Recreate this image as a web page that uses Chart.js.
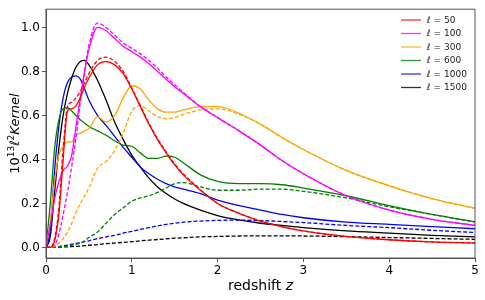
<!DOCTYPE html>
<html>
<head>
<meta charset="utf-8">
<script src="https://cdn.jsdelivr.net/npm/chart.js@4.4.0/dist/chart.umd.min.js"></script>
<style>
  html, body { margin: 0; padding: 0; background: #fff; }
  #wrap { width: 485px; height: 300px; }
</style>
</head>
<body>
<div id="wrap"><canvas id="kernelChart"></canvas></div>
<script>
// redshift samples shared by every curve
const redshift = [0, 0.05, 0.1, 0.15, 0.2, 0.25, 0.3, 0.35, 0.4, 0.45, 0.5, 0.6, 0.7, 0.8, 0.9, 1.0,
  1.1, 1.2, 1.3, 1.4, 1.5, 1.6, 1.8, 2.0, 2.25, 2.5, 2.75, 3.0, 3.5, 4.0, 4.5, 5.0];

// solid curves
const l50 = [0, 0, 0.03, 0.15, 0.40, 0.62, 0.63, 0.645, 0.68, 0.73, 0.77, 0.83, 0.845, 0.83, 0.79, 0.72,
  0.64, 0.56, 0.49, 0.43, 0.375, 0.33, 0.26, 0.20, 0.155, 0.12, 0.095, 0.075, 0.05, 0.035, 0.025, 0.02];
const l100 = [0, 0.1, 0.22, 0.3, 0.35, 0.37, 0.42, 0.55, 0.68, 0.80, 0.90, 1.0, 0.985, 0.95, 0.915, 0.89,
  0.865, 0.835, 0.80, 0.765, 0.73, 0.70, 0.64, 0.59, 0.53, 0.465, 0.395, 0.335, 0.235, 0.17, 0.128, 0.10];
const l300 = [0, 0.12, 0.30, 0.42, 0.46, 0.48, 0.48, 0.51, 0.52, 0.53, 0.54, 0.595, 0.57, 0.60, 0.68, 0.735,
  0.72, 0.67, 0.63, 0.615, 0.615, 0.625, 0.64, 0.64, 0.61, 0.56, 0.50, 0.445, 0.35, 0.28, 0.222, 0.178];
const l600 = [0, 0.2, 0.45, 0.58, 0.63, 0.635, 0.62, 0.6, 0.58, 0.565, 0.55, 0.53, 0.51, 0.485, 0.465, 0.46,
  0.43, 0.405, 0.405, 0.415, 0.41, 0.385, 0.33, 0.30, 0.29, 0.29, 0.285, 0.27, 0.235, 0.19, 0.15, 0.117];
const l1000 = [0, 0.08, 0.35, 0.55, 0.68, 0.75, 0.775, 0.78, 0.765, 0.72, 0.67, 0.60, 0.555, 0.505, 0.455, 0.41,
  0.365, 0.335, 0.31, 0.29, 0.275, 0.265, 0.245, 0.215, 0.19, 0.17, 0.15, 0.135, 0.115, 0.105, 0.095, 0.085];
const l1500 = [0, 0.05, 0.25, 0.45, 0.6, 0.7, 0.77, 0.82, 0.845, 0.85, 0.83, 0.76, 0.67, 0.57, 0.49, 0.42,
  0.365, 0.315, 0.275, 0.245, 0.22, 0.2, 0.17, 0.145, 0.125, 0.11, 0.1, 0.09, 0.075, 0.065, 0.055, 0.048];

// dashed curves
const l50d = [0, 0, 0.04, 0.18, 0.45, 0.64, 0.66, 0.68, 0.71, 0.75, 0.79, 0.85, 0.865, 0.845, 0.80, 0.725,
  0.645, 0.565, 0.495, 0.435, 0.38, 0.335, 0.262, 0.20, 0.155, 0.12, 0.095, 0.075, 0.05, 0.035, 0.025, 0.02];
const l100d = [0, 0, 0.01, 0.06, 0.15, 0.25, 0.37, 0.5, 0.66, 0.80, 0.92, 1.02, 1.0, 0.965, 0.93, 0.905,
  0.88, 0.85, 0.815, 0.775, 0.74, 0.705, 0.64, 0.59, 0.53, 0.465, 0.395, 0.335, 0.235, 0.17, 0.128, 0.10];
const l300d = [0, 0, 0.005, 0.02, 0.04, 0.07, 0.11, 0.16, 0.2, 0.235, 0.27, 0.36, 0.39, 0.44, 0.52, 0.62,
  0.645, 0.62, 0.595, 0.585, 0.59, 0.605, 0.625, 0.63, 0.605, 0.56, 0.50, 0.445, 0.35, 0.28, 0.222, 0.178];
const l600d = [0, 0, 0, 0.002, 0.004, 0.006, 0.01, 0.014, 0.02, 0.03, 0.045, 0.07, 0.11, 0.15, 0.18, 0.21,
  0.225, 0.235, 0.25, 0.27, 0.29, 0.295, 0.275, 0.26, 0.26, 0.265, 0.265, 0.255, 0.225, 0.185, 0.15, 0.115];
const l1000d = [0, 0, 0.002, 0.004, 0.008, 0.011, 0.015, 0.018, 0.022, 0.026, 0.03, 0.04, 0.048, 0.055, 0.065, 0.073,
  0.082, 0.09, 0.098, 0.105, 0.11, 0.115, 0.12, 0.123, 0.124, 0.122, 0.118, 0.113, 0.1, 0.09, 0.078, 0.068];
const l1500d = [0, 0, 0, 0.001, 0.002, 0.003, 0.004, 0.005, 0.006, 0.008, 0.01, 0.013, 0.017, 0.02, 0.023, 0.026,
  0.03, 0.033, 0.036, 0.039, 0.042, 0.044, 0.048, 0.05, 0.052, 0.053, 0.053, 0.052, 0.049, 0.045, 0.041, 0.037];

const legendLabels = ["ℓ = 50", "ℓ = 100", "ℓ = 300", "ℓ = 600", "ℓ = 1000", "ℓ = 1500"];
const lineColors = ["#ff0000", "#ff00ff", "#ffa500", "#008000", "#0000ff", "#000000"];
const xTicks = [0, 1, 2, 3, 4, 5];
const yTicks = [0.0, 0.2, 0.4, 0.6, 0.8, 1.0];

const solidSeries = [l50, l100, l300, l600, l1000, l1500];
const dashedSeries = [l50d, l100d, l300d, l600d, l1000d, l1500d];

const toPoints = arr => redshift.map((z, i) => ({ x: z, y: arr[i] }));

const datasets = [];
solidSeries.forEach((arr, i) => {
  datasets.push({
    label: legendLabels[i],
    data: toPoints(arr),
    borderColor: lineColors[i],
    borderWidth: 1.3,
    pointRadius: 0,
    fill: false,
    cubicInterpolationMode: 'monotone'
  });
  datasets.push({
    label: legendLabels[i] + " (dashed)",
    data: toPoints(dashedSeries[i]),
    borderColor: lineColors[i],
    borderWidth: 1.3,
    borderDash: [4, 2],
    pointRadius: 0,
    fill: false,
    cubicInterpolationMode: 'monotone'
  });
});

const axisColor = '#555';

// frame, axis titles and legend, drawn matplotlib style
const extras = {
  id: 'extras',
  afterDraw(chart) {
    const { ctx, chartArea: a } = chart;
    ctx.save();
    ctx.strokeStyle = axisColor;
    ctx.lineWidth = 1;
    ctx.strokeRect(a.left, a.top, a.right - a.left, a.bottom - a.top);

    // x title: "redshift z"
    ctx.fillStyle = '#000';
    ctx.textBaseline = 'alphabetic';
    const f1 = '14px "DejaVu Sans"', f1i = 'italic 14px "DejaVu Sans"';
    ctx.font = f1;
    const w1 = ctx.measureText('redshift ').width;
    ctx.font = f1i;
    const w2 = ctx.measureText('z').width;
    let x0 = (a.left + a.right) / 2 - (w1 + w2) / 2;
    ctx.textAlign = 'left';
    ctx.font = f1;
    ctx.fillText('redshift ', x0, 290);
    ctx.font = f1i;
    ctx.fillText('z', x0 + w1, 290);

    // y title: 10^13 ℓ^2 Kernel
    const parts = [
      { t: '10', f: '13px "DejaVu Sans"', dy: 0 },
      { t: '13', f: '9px "DejaVu Sans"', dy: -5 },
      { t: 'ℓ', f: 'italic 13px "DejaVu Sans"', dy: 0 },
      { t: '2', f: '9px "DejaVu Sans"', dy: -5 },
      { t: 'Kernel', f: 'italic 13px "DejaVu Sans"', dy: 0 }
    ];
    let total = 0;
    parts.forEach(p => { ctx.font = p.f; p.w = ctx.measureText(p.t).width; total += p.w; });
    ctx.translate(19, (a.top + a.bottom) / 2);
    ctx.rotate(-Math.PI / 2);
    let cx = -total / 2;
    parts.forEach(p => { ctx.font = p.f; ctx.fillText(p.t, cx, p.dy); cx += p.w; });
    ctx.setTransform(1, 0, 0, 1, 0, 0);

    // legend
    ctx.font = '9px "DejaVu Sans"';
    ctx.textBaseline = 'middle';
    legendLabels.forEach((lab, i) => {
      const y = 20 + i * 13.5;
      ctx.strokeStyle = lineColors[i];
      ctx.globalAlpha = 0.8;
      ctx.lineWidth = 1.3;
      ctx.beginPath();
      ctx.moveTo(401, y);
      ctx.lineTo(421, y);
      ctx.stroke();
      ctx.globalAlpha = 1;
      ctx.fillStyle = '#222';
      ctx.fillText(lab, 427, y + 0.5);
    });
    ctx.restore();
  }
};

const ctx = document.getElementById('kernelChart').getContext('2d');
const kernelChart = new Chart(ctx, {
  type: 'line',
  data: { datasets: datasets },
  options: {
    responsive: true,
    maintainAspectRatio: false,
    animation: false,
    layout: { padding: { top: 8, right: 10, left: 0, bottom: 0 } },
    scales: {
      x: {
        type: 'linear',
        min: 0,
        max: 5,
        afterBuildTicks: s => { s.ticks = xTicks.map(v => ({ value: v })); },
        afterFit: s => { s.height = 42; },
        grid: { drawOnChartArea: false, tickLength: 4, tickColor: axisColor },
        border: { color: axisColor },
        ticks: {
          color: '#000',
          padding: 2,
          maxRotation: 0,
          font: { family: '"DejaVu Sans"', size: 12 },
          callback: v => String(v)
        }
      },
      y: {
        type: 'linear',
        min: -0.048,
        max: 1.083,
        afterBuildTicks: s => { s.ticks = yTicks.map(v => ({ value: v })); },
        afterFit: s => { s.width = 46; },
        grid: { drawOnChartArea: false, tickLength: 4, tickColor: axisColor },
        border: { color: axisColor },
        ticks: {
          color: '#000',
          padding: 2,
          font: { family: '"DejaVu Sans"', size: 12 },
          callback: v => v.toFixed(1)
        }
      }
    },
    plugins: {
      legend: { display: false },
      tooltip: { enabled: false }
    }
  },
  plugins: [extras]
});
</script>
</body>
</html>
